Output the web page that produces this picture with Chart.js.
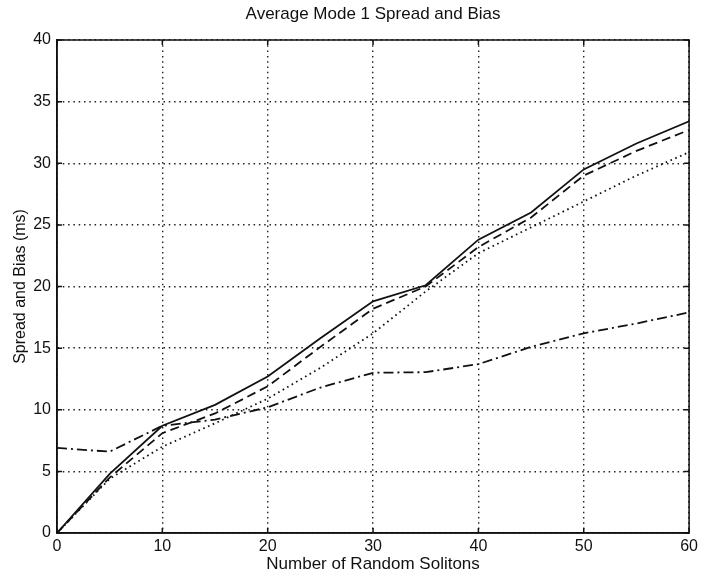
<!DOCTYPE html>
<html>
<head>
<meta charset="utf-8">
<script src="https://cdn.jsdelivr.net/npm/chart.js@4/dist/chart.umd.min.js"></script>
<style>
  html, body { margin: 0; padding: 0; background: #fff; }
  #wrap { width: 702px; height: 578px; }
</style>
</head>
<body>
<div id="wrap"><canvas id="c" width="702" height="578"></canvas></div>
<script>
// Number of random solitons
const solitons = [0, 5, 10, 15, 20, 25, 30, 35, 40, 45, 50, 55, 60];
// Spread / bias curves (ms)
const solidSeries   = [0, 4.8, 8.7, 10.4, 12.7, 15.8, 18.8, 20.1, 23.8, 26.0, 29.5, 31.6, 33.4];
const dashedSeries  = [0, 4.5, 8.1, 9.7, 11.9, 15.1, 18.2, 20.0, 23.2, 25.6, 29.0, 31.0, 32.7];
const dottedSeries  = [0, 4.4, 7.0, 8.9, 10.9, 13.4, 16.2, 19.6, 22.7, 24.8, 26.9, 29.0, 30.9];
const dashDotSeries = [6.9, 6.6, 8.7, 9.2, 10.2, 11.8, 13.0, 13.05, 13.7, 15.1, 16.2, 17.0, 17.9];

const xTicks = [0, 10, 20, 30, 40, 50, 60];
const yTicks = [0, 5, 10, 15, 20, 25, 30, 35, 40];

const chartTitle = 'Average Mode 1 Spread and Bias';

const FONT = '"Liberation Sans", Arial, Helvetica, sans-serif';
const INK = '#111';

const toPoints = ys => solitons.map((x, i) => ({ x, y: ys[i] }));

function lineSet(ys, dash, width) {
  return {
    data: toPoints(ys),
    borderColor: INK,
    borderWidth: width,
    borderDash: dash,
    pointRadius: 0,
    tension: 0,
    fill: false
  };
}

// Axes box with short inward tick marks on all four sides, plus the title centred over the plot
const boxPlugin = {
  id: 'boxTicks',
  afterDatasetsDraw(chart) {
    const { ctx, chartArea: a, scales } = chart;
    ctx.save();
    ctx.strokeStyle = INK;
    ctx.lineWidth = 1.5;
    ctx.setLineDash([]);
    ctx.strokeRect(a.left, a.top, a.right - a.left, a.bottom - a.top);
    const len = 5;
    ctx.beginPath();
    xTicks.forEach(v => {
      const px = scales.x.getPixelForValue(v);
      ctx.moveTo(px, a.bottom); ctx.lineTo(px, a.bottom - len);
      ctx.moveTo(px, a.top); ctx.lineTo(px, a.top + len);
    });
    yTicks.forEach(v => {
      const py = scales.y.getPixelForValue(v);
      ctx.moveTo(a.left, py); ctx.lineTo(a.left + len, py);
      ctx.moveTo(a.right, py); ctx.lineTo(a.right - len, py);
    });
    ctx.stroke();

    ctx.fillStyle = INK;
    ctx.font = '17px ' + FONT;
    ctx.textAlign = 'center';
    ctx.textBaseline = 'middle';
    ctx.fillText(chartTitle, (a.left + a.right) / 2, 14);
    ctx.restore();
  }
};

new Chart(document.getElementById('c'), {
  type: 'line',
  data: {
    datasets: [
      lineSet(solidSeries, [], 1.8),
      lineSet(dashedSeries, [9, 5], 1.8),
      lineSet(dottedSeries, [1.6, 3.6], 1.8),
      lineSet(dashDotSeries, [10, 4, 2, 4], 1.8)
    ]
  },
  options: {
    responsive: false,
    animation: false,
    events: [],
    layout: { padding: { left: 0, right: 12, top: 40, bottom: 0 } },
    plugins: {
      legend: { display: false },
      tooltip: { enabled: false },
      title: { display: false }
    },
    scales: {
      x: {
        type: 'linear',
        min: 0, max: 60,
        afterBuildTicks: s => { s.ticks = xTicks.map(v => ({ value: v })); },
        afterFit: s => { s.height = 45; },
        ticks: { color: INK, font: { family: FONT, size: 16 }, padding: 4, maxRotation: 0 },
        grid: { color: '#222', lineWidth: 1.4, drawTicks: false },
        border: { display: true, color: INK, width: 1.5, dash: [1.5, 3.8] },
        title: {
          display: true,
          text: 'Number of Random Solitons',
          color: INK,
          font: { family: FONT, size: 17 },
          padding: { top: 0, bottom: 3 }
        }
      },
      y: {
        type: 'linear',
        min: 0, max: 40,
        afterBuildTicks: s => { s.ticks = yTicks.map(v => ({ value: v })); },
        afterFit: s => { s.width = 57; },
        ticks: { color: INK, font: { family: FONT, size: 16 }, padding: 6 },
        grid: { color: '#222', lineWidth: 1.4, drawTicks: false },
        border: { display: true, color: INK, width: 1.5, dash: [1.5, 3.8] },
        title: {
          display: true,
          text: 'Spread and Bias (ms)',
          color: INK,
          font: { family: FONT, size: 16 },
          padding: { top: 11, bottom: 0 }
        }
      }
    }
  },
  plugins: [boxPlugin]
});
</script>
</body>
</html>
